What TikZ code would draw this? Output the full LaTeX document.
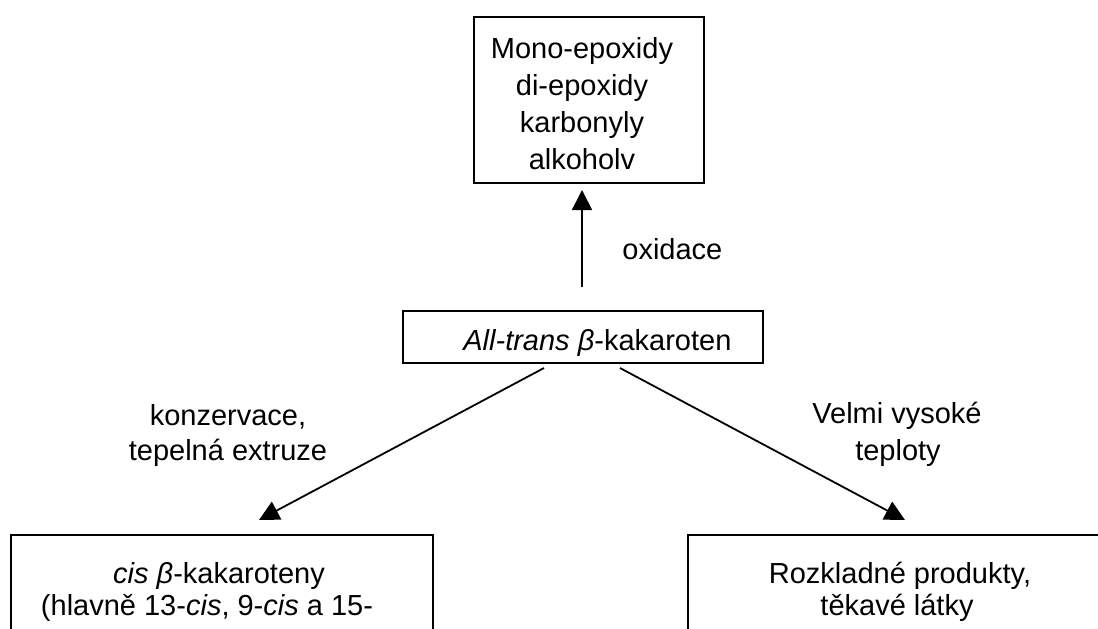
\documentclass[tikz,border=0pt]{standalone}
\usepackage{fontspec}
\setmainfont{Liberation Sans}
\usetikzlibrary{arrows.meta}
\begin{document}
\begin{tikzpicture}[x=0.5pt,y=-0.5pt,
  box/.style={draw, line width=1pt, inner sep=0pt, anchor=north west},
  arr/.style={line width=0.9pt, -{Triangle[length=10pt,width=10pt]}},
  txt/.style={font=\fontsize{14.5pt}{18.5pt}\selectfont, inner sep=0pt, anchor=base}]
\useasboundingbox (0,0) rectangle (1098,628);
\clip (0,0) rectangle (1098,628);
% boxes
\node[box, minimum width=115pt, minimum height=83pt] (top) at (473,16) {};
\node[box, minimum width=180pt, minimum height=26pt] (mid) at (402,310) {};
\node[box, minimum width=211pt, minimum height=60pt] (bl) at (10,534) {};
\node[box, minimum width=230pt, minimum height=60pt] (br) at (687,534) {};
% texts
\node[txt] (t1) at (582,58) {Mono-epoxidy};
\node[txt] (t2) at (582,95) {di-epoxidy};
\node[txt] (t3) at (582,132) {karbonyly};
\node[txt] (t4) at (582,169) {alkoholv};
\node[txt, anchor=base west] (ox) at (622,259) {oxidace};
\node[txt, anchor=base west] (mt) at (463,350) {\textit{All-trans β}-kakaroten};
\node[txt] (k1) at (228,425) {konzervace,};
\node[txt] (k2) at (228,460) {tepelná extruze};
\node[txt] (v1) at (897,423) {Velmi vysoké};
\node[txt] (v2) at (898,460) {teploty};
\node[txt] (b1) at (219,583) {\textit{cis β}-kakaroteny};
\node[txt] (b2) at (207,615) {(hlavně 13-\textit{cis}, 9-\textit{cis} a 15-};
\node[txt] (r1) at (900,583) {Rozkladné produkty,};
\node[txt] (r2) at (897,615) {těkavé látky};
% connectors
\coordinate (oxs) at (582,287);
\coordinate (oxe) at (582,190);
\coordinate (ls) at (544,368);
\coordinate (le) at (259,520);
\coordinate (rs) at (620,368);
\coordinate (re) at (905,520);
\draw[arr] (oxs) -- (oxe);
\draw[arr] (ls) -- (le);
\draw[arr] (rs) -- (re);
\end{tikzpicture}
\end{document}
